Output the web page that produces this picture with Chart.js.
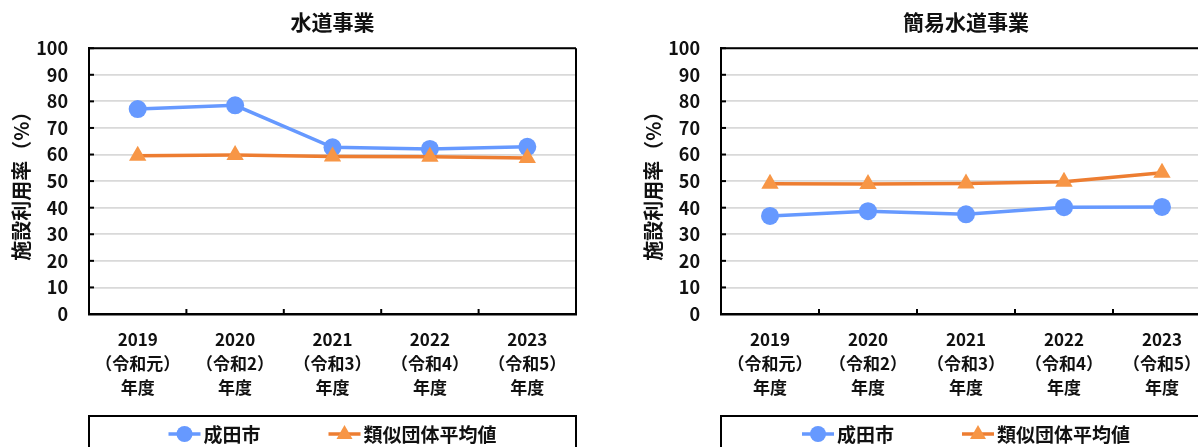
<!DOCTYPE html>
<html lang="ja">
<head>
<meta charset="utf-8">
<script src="https://cdn.jsdelivr.net/npm/chart.js@4"></script>
<style>
    html, body { margin: 0; padding: 0; background: #fff; }
    body { width: 1198px; height: 447px; overflow: hidden; position: relative; }
    .caja { position: absolute; top: 0; height: 447px; }
</style>
</head>
<body>
<div class="caja" style="left:0;width:600px"><canvas id="graficoSuido"></canvas></div>
<div class="caja" style="left:632px;width:603px"><canvas id="graficoKanni"></canvas></div>
<script>
// Datos
const anios        = [['2019','（令和元）','年度'], ['2020','（令和2）','年度'], ['2021','（令和3）','年度'], ['2022','（令和4）','年度'], ['2023','（令和5）','年度']];
const suidoNarita  = [77.1, 78.5, 62.7, 62.1, 62.9];
const suidoRuiji   = [59.5, 59.8, 59.3, 59.2, 58.7];
const kanniNarita  = [36.9, 38.7, 37.5, 40.2, 40.3];
const kanniRuiji   = [49.0, 48.9, 49.1, 49.8, 53.1];
const nombreSeries = ['成田市', '類似団体平均値'];

const FUENTE = '"Noto Sans CJK JP", "Noto Sans", sans-serif';
const AZUL = '#6699FF';
const NARANJA_LINEA = '#ED7D31';
const NARANJA_MARCA = '#F79646';

// Marco del área, marcas interiores y leyenda dibujada a mano
const marcoPlugin = {
    id: 'marco',
    beforeDatasetsDraw(chart){
        const ctx = chart.ctx;
        const a = chart.chartArea;
        const x = chart.scales.x, y = chart.scales.y;
        ctx.save();
        ctx.strokeStyle = '#000';
        ctx.lineWidth = 2;
        ctx.beginPath();
        ctx.moveTo(a.left, a.top); ctx.lineTo(a.right, a.top);
        ctx.moveTo(a.right, a.top); ctx.lineTo(a.right, a.bottom);
        ctx.stroke();
        // marcas del eje y
        y.ticks.forEach(t => {
            const py = y.getPixelForValue(t.value);
            ctx.beginPath(); ctx.moveTo(a.left, py); ctx.lineTo(a.left + 5, py); ctx.stroke();
        });
        // marcas del eje x en los límites de categoría
        const medio = (x.getPixelForValue(1) - x.getPixelForValue(0)) / 2;
        for(let i = 1; i < chart.data.labels.length; i++){
            const px = x.getPixelForValue(i) - medio;
            ctx.beginPath(); ctx.moveTo(px, a.bottom); ctx.lineTo(px, a.bottom - 5); ctx.stroke();
        }
        ctx.restore();
    },
    afterDraw(chart){
        const ctx = chart.ctx;
        const a = chart.chartArea;
        ctx.save();
        ctx.strokeStyle = '#000';
        ctx.lineWidth = 2;
        ctx.strokeRect(a.left, 416, a.right - a.left, 60);

        ctx.font = 'bold 19px ' + FUENTE;
        ctx.textBaseline = 'middle';
        const largo = 32, sep = 3, hueco = 68, yc = 434;
        const anchos = chart.data.datasets.map(d => ctx.measureText(d.label).width);
        const total = anchos.reduce((s, w) => s + largo + sep + w, 0) + hueco;
        let px = (a.left + a.right) / 2 - total / 2;
        chart.data.datasets.forEach((d, i) => {
            ctx.strokeStyle = d.borderColor;
            ctx.lineWidth = 3.5;
            ctx.beginPath(); ctx.moveTo(px, yc); ctx.lineTo(px + largo, yc); ctx.stroke();
            ctx.fillStyle = d.pointBackgroundColor;
            ctx.beginPath();
            const cx = px + largo / 2;
            if(d.pointStyle === 'triangle'){
                ctx.moveTo(cx, yc - 9); ctx.lineTo(cx + 8, yc + 5); ctx.lineTo(cx - 8, yc + 5);
            } else {
                ctx.arc(cx, yc, 8, 0, Math.PI * 2);
            }
            ctx.fill();
            ctx.fillStyle = '#111';
            ctx.fillText(d.label, px + largo + sep, yc + 1);
            px += largo + sep + anchos[i] + hueco;
        });
        ctx.restore();
    }
};

function crearGrafico(id, titulo, narita, ruiji){
    return new Chart(document.getElementById(id), {
        type: 'line',
        data: {
            labels: anios,
            datasets: [{
                label: nombreSeries[0],
                data: narita,
                borderColor: AZUL,
                backgroundColor: AZUL,
                pointBackgroundColor: AZUL,
                borderWidth: 3.5,
                pointRadius: 9,
                pointBorderWidth: 0,
                pointStyle: 'circle',
                order: 1
            }, {
                label: nombreSeries[1],
                data: ruiji,
                borderColor: NARANJA_LINEA,
                backgroundColor: NARANJA_MARCA,
                pointBackgroundColor: NARANJA_MARCA,
                borderWidth: 3.5,
                pointRadius: 10,
                pointBorderWidth: 0,
                pointStyle: 'triangle',
                order: 0
            }]
        },
        options: {
            responsive: true,
            maintainAspectRatio: false,
            animation: false,
            layout: { padding: { left: 0, right: 24, top: 0, bottom: 0 } },
            plugins: {
                legend: { display: false },
                tooltip: { enabled: false },
                title: {
                    display: true,
                    text: titulo,
                    fullSize: false,
                    color: '#111',
                    font: { family: FUENTE, size: 21, weight: 'bold', lineHeight: 1.2 },
                    padding: { top: 9, bottom: 14 }
                }
            },
            scales: {
                x: {
                    offset: true,
                    grid: { display: false, drawTicks: false },
                    border: { color: '#000', width: 2.5 },
                    ticks: {
                        color: '#111',
                        padding: 13,
                        maxRotation: 0,
                        autoSkip: false,
                        font: { family: FUENTE, size: 17, weight: 'bold', lineHeight: 1.42 }
                    },
                    afterFit(s){ s.height = 133; }
                },
                y: {
                    min: 0,
                    max: 100,
                    grid: { color: '#D9D9D9', lineWidth: 1.8, drawTicks: false },
                    border: { color: '#000', width: 2 },
                    ticks: {
                        stepSize: 10,
                        color: '#111',
                        padding: 21,
                        font: { family: FUENTE, size: 18, weight: 'bold' }
                    },
                    title: {
                        display: true,
                        text: '施設利用率（%）',
                        color: '#111',
                        font: { family: FUENTE, size: 20, weight: 'bold', lineHeight: 1.2 },
                        padding: { top: 9, bottom: 0 }
                    },
                    afterFit(s){ s.width = 89; }
                }
            }
        },
        plugins: [marcoPlugin]
    });
}

crearGrafico('graficoSuido', '水道事業', suidoNarita, suidoRuiji);
crearGrafico('graficoKanni', '簡易水道事業', kanniNarita, kanniRuiji);
</script>
</body>
</html>
